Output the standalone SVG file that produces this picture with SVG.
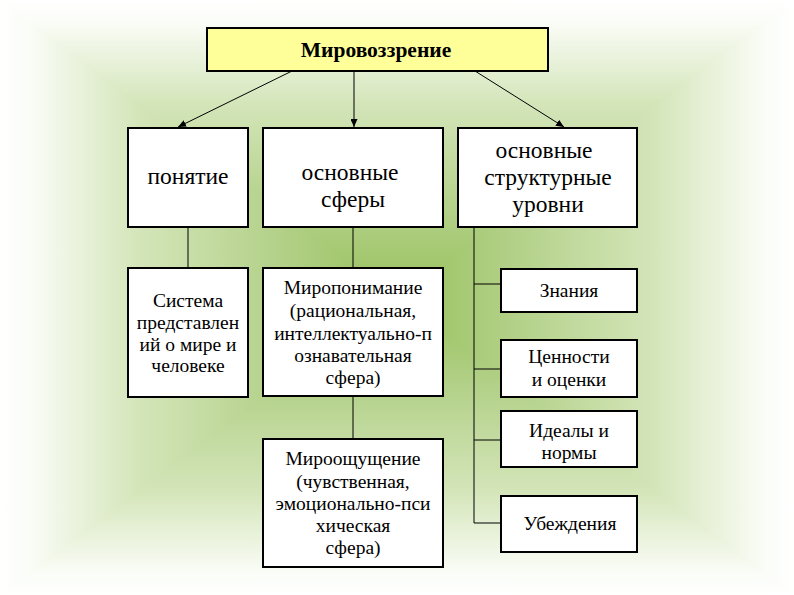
<svg xmlns="http://www.w3.org/2000/svg" width="794" height="595" viewBox="0 0 794 595">
  <defs>
    <linearGradient id="gT" gradientUnits="userSpaceOnUse" x1="0" y1="0" x2="0" y2="297.5">
      <stop offset="0" stop-color="#ffffff"/>
      <stop offset="0.07" stop-color="#fbfdf8"/>
      <stop offset="0.35" stop-color="#d4e5b9"/>
      <stop offset="0.7" stop-color="#b3d189"/>
      <stop offset="1" stop-color="#98c05c"/>
    </linearGradient>
    <linearGradient id="gB" gradientUnits="userSpaceOnUse" x1="0" y1="595" x2="0" y2="297.5">
      <stop offset="0" stop-color="#ffffff"/>
      <stop offset="0.07" stop-color="#fbfdf8"/>
      <stop offset="0.35" stop-color="#d4e5b9"/>
      <stop offset="0.7" stop-color="#b3d189"/>
      <stop offset="1" stop-color="#98c05c"/>
    </linearGradient>
    <linearGradient id="gL" gradientUnits="userSpaceOnUse" x1="0" y1="0" x2="397" y2="0">
      <stop offset="0" stop-color="#ffffff"/>
      <stop offset="0.07" stop-color="#fbfdf8"/>
      <stop offset="0.35" stop-color="#d4e5b9"/>
      <stop offset="0.7" stop-color="#b3d189"/>
      <stop offset="1" stop-color="#98c05c"/>
    </linearGradient>
    <linearGradient id="gR" gradientUnits="userSpaceOnUse" x1="794" y1="0" x2="397" y2="0">
      <stop offset="0" stop-color="#ffffff"/>
      <stop offset="0.07" stop-color="#fbfdf8"/>
      <stop offset="0.35" stop-color="#d4e5b9"/>
      <stop offset="0.7" stop-color="#b3d189"/>
      <stop offset="1" stop-color="#98c05c"/>
    </linearGradient>
    <marker id="arr" markerUnits="userSpaceOnUse" markerWidth="9" markerHeight="7" refX="8" refY="3.5" orient="auto">
      <path d="M0,0 L8,3.5 L0,7 z" fill="#000"/>
    </marker>
  </defs>
  <style>
    .box { fill: #ffffff; stroke: #000; stroke-width: 2; }
    .title { fill: #ffff99; stroke: #000; stroke-width: 2; }
    .ln { stroke: #000; stroke-width: 1; fill: none; }
    text { font-family: "Liberation Serif", "Times New Roman", serif; fill: #000; text-anchor: middle; }
    .t1 { font-size: 23.5px; }
    .t2 { font-size: 19.5px; }
    .tb { font-size: 21.5px; font-weight: bold; }
  </style>

  <g id="background">
    <rect x="0" y="0" width="794" height="595" fill="#d4e5b9"/>
    <polygon points="0,0 0,595 397,297.5" fill="url(#gL)" stroke="url(#gL)" stroke-width="1.5"/>
    <polygon points="794,0 794,595 397,297.5" fill="url(#gR)" stroke="url(#gR)" stroke-width="1.5"/>
    <polygon points="0,0 794,0 397,297.5" fill="url(#gT)" stroke="url(#gT)" stroke-width="1.5"/>
    <polygon points="0,595 794,595 397,297.5" fill="url(#gB)" stroke="url(#gB)" stroke-width="1.5"/>
  </g>

  <g id="connectors">
    <line class="ln" x1="292" y1="71" x2="178" y2="127" marker-end="url(#arr)"/>
    <line class="ln" x1="354" y1="71" x2="354" y2="127" marker-end="url(#arr)"/>
    <line class="ln" x1="475" y1="71" x2="564" y2="127" marker-end="url(#arr)"/>
    <line class="ln" x1="188" y1="227" x2="188" y2="268"/>
    <line class="ln" x1="353" y1="227" x2="353" y2="268"/>
    <line class="ln" x1="353" y1="396" x2="353" y2="439"/>
    <line class="ln" x1="474" y1="227" x2="474" y2="523"/>
    <line class="ln" x1="474" y1="284" x2="501" y2="284"/>
    <line class="ln" x1="474" y1="369" x2="501" y2="369"/>
    <line class="ln" x1="474" y1="440" x2="501" y2="440"/>
    <line class="ln" x1="474" y1="523" x2="501" y2="523"/>
  </g>

  <g id="n-mirovozzrenie">
    <rect class="title" x="207" y="28" width="341" height="43"/>
    <text class="tb" x="376" y="57">Мировоззрение</text>
  </g>

  <g id="n-ponyatie">
    <rect class="box" x="128" y="128" width="120" height="99"/>
    <text class="t1" x="188" y="184">понятие</text>
  </g>

  <g id="n-sfery">
    <rect class="box" x="263" y="128" width="180" height="99"/>
    <text class="t1" x="350" y="180">основные</text>
    <text class="t1" x="353" y="207">сферы</text>
  </g>

  <g id="n-urovni">
    <rect class="box" x="458" y="128" width="179" height="99"/>
    <text class="t1" x="544" y="158">основные</text>
    <text class="t1" x="548" y="185">структурные</text>
    <text class="t1" x="548" y="212">уровни</text>
  </g>

  <g id="n-sistema">
    <rect class="box" x="128" y="268" width="120" height="129"/>
    <text class="t2" x="188" y="307">Система</text>
    <text class="t2" x="188" y="329">представлен</text>
    <text class="t2" x="188" y="351">ий о мире и</text>
    <text class="t2" x="188" y="372">человеке</text>
  </g>

  <g id="n-miroponimanie">
    <rect class="box" x="263" y="268" width="180" height="128"/>
    <text class="t2" x="353" y="294">Миропонимание</text>
    <text class="t2" x="353" y="317">(рациональная,</text>
    <text class="t2" x="353" y="340">интеллектуально-п</text>
    <text class="t2" x="353" y="362">ознавательная</text>
    <text class="t2" x="353" y="384">сфера)</text>
  </g>

  <g id="n-mirooshchushchenie">
    <rect class="box" x="263" y="439" width="180" height="128"/>
    <text class="t2" x="353" y="465">Мироощущение</text>
    <text class="t2" x="353" y="488">(чувственная,</text>
    <text class="t2" x="353" y="510">эмоционально-пси</text>
    <text class="t2" x="353" y="532">хическая</text>
    <text class="t2" x="353" y="554">сфера)</text>
  </g>

  <g id="n-znaniya">
    <rect class="box" x="501" y="269" width="136" height="43"/>
    <text class="t2" x="569" y="297">Знания</text>
  </g>

  <g id="n-tsennosti">
    <rect class="box" x="501" y="340" width="136" height="57"/>
    <text class="t2" x="569" y="363">Ценности</text>
    <text class="t2" x="569" y="386">и оценки</text>
  </g>

  <g id="n-idealy">
    <rect class="box" x="501" y="411" width="136" height="56"/>
    <text class="t2" x="569" y="437">Идеалы и</text>
    <text class="t2" x="569" y="459">нормы</text>
  </g>

  <g id="n-ubezhdeniya">
    <rect class="box" x="501" y="496" width="136" height="56"/>
    <text class="t2" x="570" y="530">Убеждения</text>
  </g>
</svg>
